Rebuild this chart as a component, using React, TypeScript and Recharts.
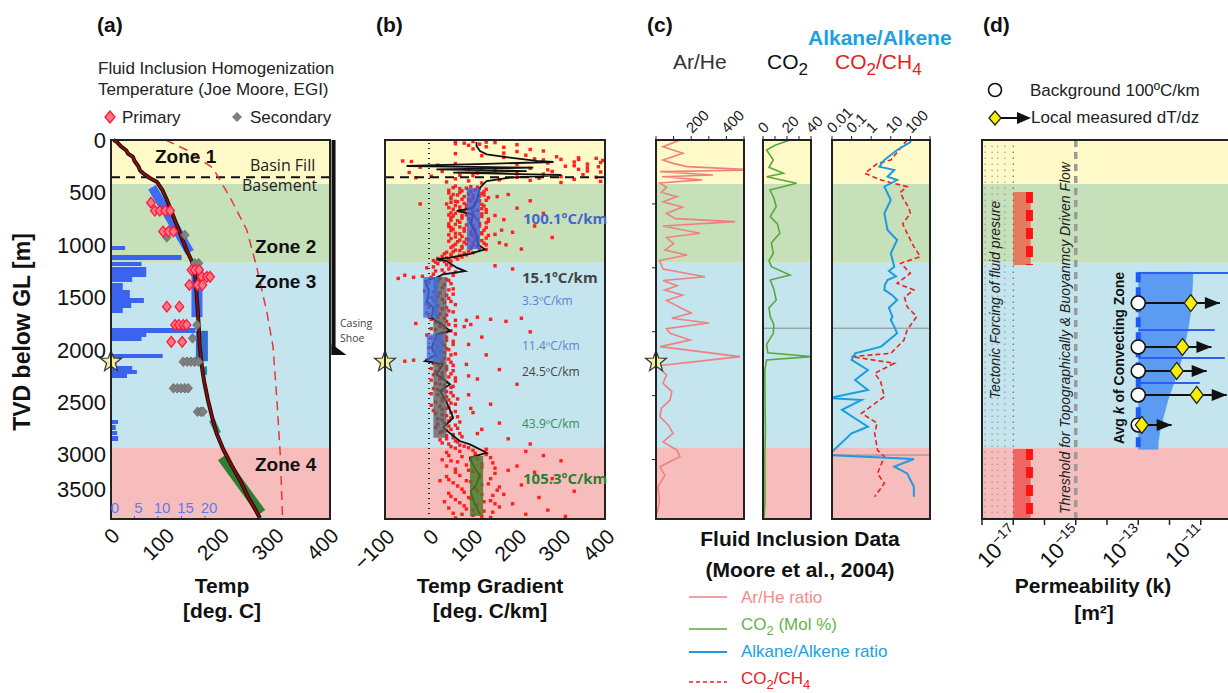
import React from 'react';
import { ComposedChart, Scatter, XAxis, YAxis, ReferenceArea, ReferenceLine, ReferenceDot } from 'recharts';

const SANS = '"Liberation Sans", Arial, Helvetica, sans-serif';
const OPEN = '"Open Sans", "Liberation Sans", sans-serif';

const DEPTH_MAX = 3615;

// zones (depth below ground level, m)
const zoneTop = [0, 420, 1170, 2930];
const zoneBase = [420, 1170, 2930, 3615];
const zoneFill = ['#fffac8', '#c6e1b9', '#c4e4ee', '#f7bdbd'];
const basementDepth = 355;
const starDepth = 2115;

// ---------- (a) temperature ----------
const tempTicks = [0, 100, 200, 300, 400];
const depthTicks = [0, 500, 1000, 1500, 2000, 2500, 3000, 3500];
// [depth, temp]
const tempProfile = [
  [0, 5], [20, 11], [60, 18], [100, 28], [130, 31], [160, 40], [200, 43], [250, 50], [290, 53], [315, 58],
  [360, 70], [400, 84], [480, 94], [570, 102], [700, 112], [890, 126], [1050, 138], [1160, 148], [1300, 154],
  [1520, 157], [1750, 160], [1970, 162], [2160, 166], [2300, 170], [2480, 177], [2650, 185], [2800, 193],
  [2950, 205], [3100, 220], [3250, 236], [3400, 250], [3605, 272],
];
const boilingCurve = [
  [0, 100], [95, 138], [267, 186], [543, 217], [858, 248], [1210, 266], [1650, 285], [1973, 296],
  [2480, 303], [2985, 309], [3555, 313], [3615, 313],
];
const primaryFI = [
  [598, 73], [675, 80], [675, 89], [675, 99], [675, 108], [873, 95], [873, 105], [873, 114],
  [1240, 147], [1240, 153], [1240, 161], [1305, 166], [1305, 175], [1305, 181], [1383, 143], [1383, 158],
  [1383, 167], [1590, 102], [1590, 125], [1764, 117], [1764, 124], [1764, 132], [1764, 138], [1925, 110], [1925, 130],
];
const secondaryFI = [
  [906, 135], [928, 102], [1176, 153], [1176, 160], [1765, 157], [1892, 149], [2115, 132], [2115, 139],
  [2115, 146], [2115, 153], [2115, 160], [2368, 114], [2368, 121], [2368, 128], [2368, 135], [2368, 141],
  [2592, 158], [2592, 164], [2592, 168],
];
// fracture count histogram [top, base, count]
const histBins = [
  [1011, 1049, 3], [1097, 1145, 15], [1164, 1202, 6.5], [1211, 1307, 7.5], [1307, 1354, 4.5], [1364, 1431, 2.5],
  [1431, 1507, 4], [1507, 1555, 7], [1555, 1602, 4.3], [1602, 1650, 2.5], [1793, 1841, 18], [1841, 1879, 7.5],
  [1879, 1917, 6.5], [2041, 2079, 11], [2156, 2194, 4.5], [2194, 2232, 5.5], [2232, 2270, 3.4],
  [2671, 2709, 1.5], [2718, 2766, 1], [2776, 2814, 1.3], [2823, 2871, 1.5],
];
const histTicks = [0, 5, 10, 15, 20];
const HIST_MAX = 46.6;
// linear gradient fits drawn on the profile
const fitBands = [
  [[450, 75], [1070, 144]],
  [[1210, 157], [1690, 157]],
  [[1820, 166], [2110, 166]],
  [[2160, 170], [2240, 170]],
  [[2670, 184], [2800, 196]],
  [[3030, 202], [3555, 275]],
];
const fitBandColor = ['#3f6df2', '#3f6df2', '#2f6ccc', '#2a86a0', '#3d8f6d', '#2f7d32'];
const fitBandWidth = [9, 11, 12, 6, 6, 9];
const casingX = 406.5;
const casingShoeDepth = 2050;

// ---------- (b) temperature gradient ----------
const gradTicks = [-100, 0, 100, 200, 300, 400];
const gradLine = [
  [20, 108], [57, 108], [105, 116], [137, 131], [168, 184], [200, 245], [210, 283], [225, 150], [248, -51],
  [264, 237], [280, 17], [296, 222], [312, 55], [334, 301], [359, 184], [391, 131], [455, 116], [582, 108],
  [650, 100], [677, 63], [709, 100], [800, 95], [900, 108], [1000, 112], [1043, 127], [1087, 93], [1122, 48],
  [1138, 17], [1154, 40], [1218, 63], [1250, 82], [1281, 32], [1313, 17], [1345, -9], [1440, 0], [1536, -5],
  [1600, 10], [1695, 6], [1760, 30], [1822, 48], [1853, 17], [1920, 12], [1981, 6], [2050, 15], [2108, -9],
  [2139, 32], [2235, 17], [2330, 48], [2394, 25], [2500, 40], [2649, 55], [2744, 32], [2871, 70], [2903, 93],
  [2983, 131], [3030, 93], [3100, 100], [3200, 115], [3284, 108], [3350, 95], [3443, 101], [3570, 116],
];
const dotsZone1 = [
  [10, 60], [15, 100], [20, 130], [30, 80], [40, 115], [25, 150], [50, 90], [70, 170], [90, 230], [110, 200],
  [130, 60], [150, 120], [160, 290], [170, 340], [175, 380], [185, 300], [190, 260], [195, 395], [200, -60],
  [205, -40], [210, 330], [220, 270], [230, 360], [240, 20], [250, 310], [255, 385], [260, -20], [270, 230],
  [280, 340], [290, 150], [300, 280], [305, 390], [310, -45], [320, 200], [330, 350], [340, 100], [350, 300],
  [355, 380], [360, -30], [365, 250], [370, 60], [380, 160], [390, 90], [400, 40], [410, 120], [345, 5],
  [300, 30], [280, 90], [35, 60], [185, 340], [215, 390], [265, 360], [325, 260], [355, 200],
  [45, 200], [65, 130], [85, 100], [105, 260], [125, 170], [145, 220], [165, 170], [180, 240], [225, 60],
  [235, 200], [245, 330], [275, 120], [285, 270], [295, 360], [315, 110], [335, 70], [375, 330], [385, 230],
  [395, 390], [405, 300],
];
const dotsZone2 = [
  [440, 60], [450, 110], [460, 85], [470, 130], [480, 45], [490, 95], [500, 70], [510, 120], [520, 55], [530, 100],
  [540, 80], [550, 135], [560, 50], [570, 90], [580, 115], [590, 65], [600, 105], [610, 40], [620, 85], [630, 125],
  [640, 70], [650, 95], [660, 55], [670, 110], [680, 80], [690, 130], [700, 60], [710, 100], [720, 75], [730, 120],
  [740, 50], [750, 90], [760, 110], [770, 65], [780, 95], [790, 130], [800, 45], [810, 85], [820, 115], [830, 70],
  [840, 100], [850, 55], [860, 125], [870, 80], [880, 105], [890, 60], [900, 95], [910, 135], [920, 75], [930, 110],
  [940, 50], [950, 90], [960, 120], [970, 65], [980, 100], [990, 85], [1000, 130], [1010, 55], [1020, 95],
  [1030, 75], [1040, 115], [1050, 60], [1060, 90], [1070, 40], [1080, 80], [1090, 50], [1100, 70], [1110, 30],
  [1120, 60], [1130, 20], [1140, 45], [1150, 10], [1160, 35], [465, 70], [525, 125], [585, 60], [655, 120],
  [715, 45], [775, 135], [835, 50], [895, 120], [955, 70], [1015, 110],
  [445, 95], [455, 55], [475, 105], [485, 75], [495, 125], [505, 45], [515, 90], [525, 65], [535, 115], [545, 50],
  [555, 100], [565, 75], [575, 130], [585, 95], [595, 50], [605, 80], [615, 120], [625, 60], [635, 100], [645, 45],
  [655, 85], [665, 130], [675, 70], [685, 100], [695, 50], [705, 120], [715, 85], [725, 55], [735, 105], [745, 75],
  [755, 135], [765, 50], [775, 95], [785, 70], [795, 115], [805, 60], [815, 100], [825, 45], [835, 130], [845, 80],
  [855, 105], [865, 50], [875, 95], [885, 120], [895, 70], [905, 45], [915, 100], [925, 60], [935, 130], [945, 85],
  [955, 105], [965, 45], [975, 80], [985, 125], [995, 60], [1005, 100], [1015, 75], [1025, 50], [1035, 95],
  [1045, 130], [1055, 70], [1065, 55], [1075, 100], [1085, 35], [1095, 85], [1105, 50], [1115, 75], [1125, 40],
  [1135, 65], [1145, 25], [1155, 50], [1165, 15],
  [520, 180], [580, 230], [650, 200], [700, 260], [760, 170], [820, 240], [880, 190], [930, 280], [980, 160],
  [1040, 210], [610, -20], [900, 150], [540, 155], [720, 150], [860, 165], [1000, 175],
];
const dotsZone3 = [
  [1180, 20], [1200, 50], [1220, -5], [1240, 30], [1260, 60], [1280, 10], [1300, -15], [1320, 25], [1340, 45],
  [1360, 0], [1380, 35], [1400, 15], [1420, 55], [1440, -10], [1460, 25], [1480, 40], [1500, 5], [1520, 30],
  [1540, 50], [1560, -5], [1580, 20], [1600, 40], [1620, 10], [1640, 55], [1660, 25], [1680, 0], [1700, 35],
  [1720, 60], [1740, 15], [1760, 45], [1780, 25], [1800, 5], [1820, 50], [1840, 30], [1860, -5], [1880, 40],
  [1900, 20], [1920, 55], [1940, 10], [1960, 35], [1980, 0], [2000, 45], [2020, 25], [2040, 60], [2060, 15],
  [2080, 35], [2100, -5], [2120, 50], [2140, 20], [2160, 40], [2180, 5], [2200, 55], [2220, 30], [2240, 10],
  [2260, 45], [2280, 25], [2300, 60], [2320, 15], [2340, 35], [2360, 50], [2380, 20], [2400, 40], [2420, 5],
  [2440, 55], [2460, 30], [2480, 45], [2500, 15], [2520, 60], [2540, 25], [2560, 40], [2580, 10], [2600, 50],
  [2620, 30], [2640, 65], [2660, 20], [2680, 45], [2700, 35], [2720, 60], [2740, 15], [2760, 50], [2780, 30],
  [2800, 70], [2820, 40], [2840, 55], [2860, 25], [2880, 65], [2900, 45], [2920, 80],
  [1190, 40], [1210, 10], [1230, 45], [1250, 15], [1270, 35], [1290, 55], [1310, 5], [1330, 40], [1350, 20],
  [1370, 50], [1390, -5], [1410, 30], [1430, 45], [1450, 10], [1470, 55], [1490, 20], [1510, 45], [1530, 10],
  [1550, 35], [1570, 60], [1590, 0], [1610, 30], [1630, 45], [1650, -5], [1670, 40], [1690, 20], [1710, 5],
  [1730, 40], [1750, 25], [1770, 60], [1790, 35], [1810, 15], [1830, 40], [1850, 60], [1870, 20], [1890, 5],
  [1910, 40], [1930, 30], [1950, 55], [1970, 20], [1990, 40], [2010, 10], [2030, 35], [2050, 50], [2070, 5],
  [2090, 45], [2110, 30], [2130, 10], [2150, 55], [2170, 25], [2190, 40], [2210, 15], [2230, 50], [2250, 30],
  [2270, 60], [2290, 5], [2310, 40], [2330, 25], [2350, 55], [2370, 10], [2390, 30], [2410, 50], [2430, 20],
  [2450, 40], [2470, 65], [2490, 30], [2510, 50], [2530, 5], [2550, 45], [2570, 30], [2590, 60], [2610, 15],
  [2630, 40], [2650, 50], [2670, 30], [2690, 70], [2710, 20], [2730, 45], [2750, 65], [2770, 40], [2790, 25],
  [2810, 55], [2830, 75], [2850, 40], [2870, 60], [2890, 30], [2910, 70], [2925, 50],
  [1200, 150], [1230, 190], [1290, -55], [1310, -35], [1320, -70], [1690, 110], [1710, 140], [1730, 175],
  [1700, 210], [1760, 95], [1830, 230], [1880, 120], [1950, 90], [2050, 130], [2110, -55], [2100, -35],
  [2190, 160], [2280, 110], [2330, 200], [2430, 90], [2520, 140], [2600, 100], [2700, 160], [2760, 120],
  [2850, 180], [2900, 230], [1750, -30], [1720, 85], [1780, 80], [2140, 85], [2250, 90], [2560, 95], [2800, 110],
];
const dotsZone4 = [
  [2940, 60], [2960, 100], [2980, 40], [3000, 130], [3020, 75], [3040, 110], [3060, 50], [3080, 145], [3100, 85],
  [3120, 120], [3140, 60], [3160, 100], [3180, 150], [3200, 70], [3220, 115], [3240, 45], [3260, 95], [3280, 135],
  [3300, 65], [3320, 105], [3340, 155], [3360, 80], [3380, 120], [3400, 50], [3420, 95], [3440, 140], [3460, 70],
  [3480, 110], [3500, 160], [3520, 85], [3540, 125], [3560, 55], [3580, 100], [3600, 140], [3050, 30], [3250, 25],
  [3450, 35],
  [2935, 90], [2950, 130], [2970, 70], [2990, 105], [3010, 45], [3030, 140], [3050, 95], [3070, 65], [3090, 120],
  [3110, 40], [3130, 150], [3150, 90], [3170, 60], [3190, 115], [3210, 40], [3230, 140], [3250, 85], [3270, 55],
  [3290, 120], [3310, 160], [3330, 75], [3350, 110], [3370, 45], [3390, 145], [3410, 90], [3430, 60], [3450, 125],
  [3470, 150], [3490, 80], [3510, 45], [3530, 100], [3550, 145], [3570, 75], [3590, 120], [3605, 60],
  [2970, 220], [3010, 260], [3060, 300], [3110, 200], [3170, 240], [3230, 280], [3290, 210], [3350, 330],
  [3410, 250], [3470, 190], [3530, 270], [3570, 220], [3590, 310], [3150, 180], [3380, 170],
];
// gradient fit boxes [x1, x2, top, base]
const gradBoxes = [
  [86, 116, 460, 1040], [10, 40, 1307, 2839], [-13, 21, 1307, 1695], [-5, 32, 1853, 2108], [93, 123, 3014, 3586],
];
const gradBoxFill = ['#3d5fd8', '#5e5e5e', '#3d6be0', '#3d6be0', '#4f7a2b'];
const gradBoxOpacity = [0.8, 0.75, 0.8, 0.75, 0.85];

// ---------- (c) fluid inclusion data ----------
const ftTicks = [609.6, 1219.2, 1828.8, 2438.4, 3048];
const arHeTicks = [0, 100, 200, 300, 400, 500];
const co2Ticks = [0, 10, 20, 30, 40];
const ratioTicks = [0.01, 0.1, 1, 10, 100, 1000];
const arHe = [
  [0, 136], [64, 40], [127, 153], [191, 40], [223, 97], [254, 176], [286, 574], [302, 23], [334, 324], [350, 34],
  [380, 260], [410, 20], [450, 60], [500, 30], [540, 120], [590, 40], [640, 150], [700, 60], [750, 110], [779, 449],
  [820, 40], [889, 250], [930, 60], [990, 100], [1050, 50], [1097, 176], [1150, 20], [1230, 40], [1304, 278],
  [1340, 40], [1390, 120], [1430, 50], [1480, 150], [1530, 60], [1600, 140], [1650, 200], [1700, 90], [1745, 300],
  [1800, 60], [1844, 80], [1908, 193], [1971, 23], [2066, 477], [2156, 6], [2240, 60], [2320, 40], [2400, 90],
  [2480, 80], [2560, 30], [2640, 23], [2720, 70], [2798, 97], [2880, 40], [2957, 119], [3021, 136], [3116, 23],
  [3200, 50], [3307, 11], [3450, 20], [3558, 6],
];
const co2 = [
  [0, 22.5], [50, 10], [95, 3], [191, 8.6], [260, 5], [318, 17], [350, 3], [413, 28], [477, 5.8], [550, 9],
  [636, 11], [731, 6], [800, 12], [890, 14], [980, 7], [1081, 8.6], [1150, 5], [1208, 7], [1288, 22.5], [1335, 6],
  [1420, 9], [1526, 11], [1600, 5], [1685, 6], [1760, 9], [1844, 8.6], [1950, 3], [2030, 4], [2066, 40.5],
  [2098, 3], [2200, 1.5], [2480, 1.7], [2800, 2], [3000, 1.5], [3434, 1.7], [3600, 1],
];
const alkRatio = [
  [0, 100], [20, 100], [95, 21], [191, 4.7], [254, 2.6], [286, 15], [350, 6.8], [382, 21], [445, 4.7], [572, 10],
  [700, 4.7], [858, 6.8], [954, 21], [1081, 10], [1208, 15], [1250, 8], [1300, 18], [1335, 6.8], [1380, 5],
  [1430, 4.7], [1480, 12], [1526, 21], [1600, 8], [1685, 12], [1717, 10], [1780, 15], [1844, 21], [1971, 3.2],
  [2035, 0.15], [2098, 0.1], [2194, 0.68], [2289, 0.15], [2384, 0.68], [2462, 0.0068], [2480, 0.32],
  [2575, 0.032], [2735, 0.68], [2798, 0.1], [3005, 0.0068], [3043, 150], [3116, 15], [3180, 68], [3307, 150],
  [3402, 150],
];
const co2ch4 = [
  [0, 68], [191, 10], [223, 2.1], [318, 0.47], [382, 3.2], [445, 68], [500, 30], [572, 47], [640, 80], [700, 100],
  [800, 40], [890, 68], [1017, 150], [1113, 320], [1176, 32], [1271, 100], [1367, 21], [1430, 150], [1500, 50],
  [1590, 68], [1685, 210], [1812, 68], [1908, 47], [2035, 10], [2066, 0.1], [2130, 15], [2226, 1.5], [2300, 3],
  [2448, 4.7], [2607, 0.32], [2700, 2], [2798, 1.5], [2957, 2.1], [3021, 4.7], [3180, 2.1], [3275, 4.7], [3402, 1.5],
];
const sampleGapDepth = [1795, 3005];

// ---------- (d) permeability ----------
const permTicks = [1e-18, 1e-17, 1e-16, 1e-15, 1e-14, 1e-13, 1e-12, 1e-11];
const gridK = [1.26e-18, 2.1e-18, 3.2e-18, 5.4e-18];
const thresholdK = 1e-15;
const tectonicK = [1e-17, 3.6e-17];
const tectonicDashK = 3.3e-17;
const tectonicZones = [[496, 1192], [2947, 3615]];
const tectonicFill = ['#e47a5e', '#f36565'];
const avgK = 1e-13;
// convecting zone envelope [depth, k]
const convEnvelope = [
  [1262, 1e-13], [1262, 5.6e-12], [1370, 5.5e-12], [1470, 5.2e-12], [1570, 5.0e-12], [1670, 4.6e-12],
  [1770, 4.1e-12], [1870, 3.5e-12], [1970, 3.0e-12], [2070, 2.5e-12], [2170, 2.1e-12], [2270, 1.6e-12],
  [2370, 1.2e-12], [2470, 9.1e-13], [2570, 7.4e-13], [2670, 6.0e-13], [2770, 5.0e-13], [2870, 4.4e-13],
  [2950, 4.3e-13], [2950, 1e-13],
];
const convSpikes = [[1268, 1.2e-10], [1812, 2.8e-11], [2079, 5.9e-11], [2318, 9.3e-12]];
const rowDepth = [1555, 1974, 2203, 2432, 2718];
const localK = [4.8e-12, 2.6e-12, 1.7e-12, 7.4e-12, 1.3e-13];
const tipK = [4.1e-11, 2.2e-11, 1.55e-11, 6.8e-11, 1.17e-12];

// ---------- helpers ----------
const toXY = (rows: number[][]) => rows.map(([y, x]) => ({ x, y }));
const Empty = () => <g />;

const zoneAreas = (xAxisId: any = 0) =>
  zoneTop.map((t, i) => (
    <ReferenceArea key={`zone${i}`} xAxisId={xAxisId} y1={t} y2={zoneBase[i]} fill={zoneFill[i]}
      fillOpacity={1} stroke="none" ifOverflow="visible" />
  ));

const frame = (xAxisId: any = 0) => (
  <ReferenceArea key="frame" xAxisId={xAxisId} y1={0} y2={DEPTH_MAX} fill="none" stroke="#222"
    strokeWidth={2} ifOverflow="visible" zIndex={1500} />
);

const curve = (key: string, rows: number[][], stroke: string, width: number, dash?: string, xAxisId: any = 0) => (
  <Scatter key={key} data={toXY(rows)} xAxisId={xAxisId} shape={Empty} isAnimationActive={false}
    line={{ stroke, strokeWidth: width, strokeDasharray: dash, fill: 'none' }} legendType="none" />
);

const StarShape = (p: any) => {
  const pts: string[] = [];
  for (let i = 0; i < 10; i++) {
    const r = i % 2 ? 4.6 : 11;
    const a = -Math.PI / 2 + (i * Math.PI) / 5;
    pts.push(`${p.cx + r * Math.cos(a)},${p.cy + r * Math.sin(a)}`);
  }
  return <polygon points={pts.join(' ')} fill="#f3ee9c" stroke="#333" strokeWidth={1.2} />;
};

const diamond = (fill: string, stroke: string, w: number, h: number, sw = 1) => (p: any) => (
  <polygon points={`${p.cx},${p.cy - h} ${p.cx + w},${p.cy} ${p.cx},${p.cy + h} ${p.cx - w},${p.cy}`}
    fill={fill} stroke={stroke} strokeWidth={sw} />
);
const dotShape = (p: any) => <rect x={p.cx - 1.7} y={p.cy - 1.7} width={3.4} height={3.4} fill="#ff1f1f" />;
const circleShape = (p: any) => <circle cx={p.cx} cy={p.cy} r={7} fill="#fff" stroke="#111" strokeWidth={1.6} />;
const arrowShape = (p: any) => (
  <polygon points={`${p.cx},${p.cy} ${p.cx - 15},${p.cy - 6} ${p.cx - 15},${p.cy + 6}`} fill="#111" />
);

const rotBottom = (fmt: (v: number) => string, dx: number, dy: number) => (p: any) => {
  const ax = p.x + dx;
  const ay = p.y + dy;
  return (
    <text x={ax} y={ay} transform={`rotate(-45 ${ax} ${ay})`} textAnchor="end" fontSize={21}
      fontFamily={SANS} fill="#111">{fmt(p.payload.value)}</text>
  );
};

const rotTop = (fmt: (v: number) => string) => (p: any) => {
  const lab = fmt(p.payload.value);
  if (!lab) return <g />;
  const ax = p.x + 1;
  const ay = p.y - 2;
  return (
    <text x={ax} y={ay} transform={`rotate(-45 ${ax} ${ay})`} textAnchor="start" fontSize={15}
      fontFamily={SANS} fill="#222">{lab}</text>
  );
};

const DepthTick = (p: any) => {
  const v = p.payload.value;
  const lift = v === 3500 ? -18 : 0;
  return (
    <text x={p.x - 3} y={p.y + lift} dy="0.36em" textAnchor="end" fontSize={22} fontFamily={SANS} fill="#111">{v}</text>
  );
};

const HistTick = (p: any) => (
  <text x={p.x + 4} y={p.y} textAnchor="middle" fontSize={15} fontFamily={SANS} fill="#5b7cf0">{p.payload.value}</text>
);

const PermTick = (p: any) => {
  const e = Math.round(Math.log10(p.payload.value));
  if (e % 2 === 0 || e > -11 || e < -17) return <g />;
  const ax = p.x + 7;
  const ay = p.y + 10;
  return (
    <text x={ax} y={ay} transform={`rotate(-45 ${ax} ${ay})`} textAnchor="end" fontSize={22} fontFamily={SANS} fill="#111">
      10<tspan dy={-9} fontSize={14}>{`\u2212${-e}`}</tspan>
    </text>
  );
};

const minus = (v: number) => (v < 0 ? `\u2212${-v}` : `${v}`);

// ---------- panels ----------
function PanelA() {
  return (
    <ComposedChart width={400} height={600} margin={{ top: 140, right: 70, bottom: 21, left: 0 }}>
      <XAxis type="number" dataKey="x" domain={[0, 400]} ticks={tempTicks} interval={0} tick={rotBottom(minus, 10, 18)}
        tickSize={0} tickMargin={0} axisLine={false} height={60} />
      <XAxis xAxisId="h" type="number" dataKey="x" domain={[0, HIST_MAX]} allowDataOverflow mirror interval={0}
        ticks={histTicks} tick={HistTick} tickSize={3} tickMargin={3} tickLine={{ stroke: '#3a63f0' }} axisLine={false} />
      <YAxis type="number" dataKey="y" domain={[0, DEPTH_MAX]} reversed ticks={depthTicks} interval={0} tick={DepthTick}
        tickSize={0} tickMargin={2} axisLine={false} width={111} />
      {zoneAreas()}
      {histBins.map(([t, b, c], i) => (
        <ReferenceArea key={`h${i}`} xAxisId="h" x1={0} x2={c} y1={t} y2={b} fill="#3a63f0" fillOpacity={1} stroke="none" />
      ))}
      <ReferenceLine y={basementDepth} stroke="#111" strokeWidth={2} strokeDasharray="9 6" />
      {curve('boil', boilingCurve, '#ee3535', 1.5, '9 6')}
      {fitBands.map((rows, i) => curve(`band${i}`, rows, fitBandColor[i], fitBandWidth[i]))}
      {curve('tempShadow', tempProfile, '#111', 4)}
      {curve('temp', tempProfile, '#8a0a0a', 2.2)}
      <Scatter data={toXY(secondaryFI)} shape={diamond('#808080', '#707070', 4.2, 4.8)} isAnimationActive={false} />
      <Scatter data={toXY(primaryFI)} shape={diamond('#ff7585', '#ff1a35', 4.3, 5.3, 1.3)} isAnimationActive={false} />
      <Scatter data={[{ x: 0, y: starDepth }]} shape={StarShape} isAnimationActive={false} />
      <ReferenceLine segment={[{ x: casingX, y: 0 }, { x: casingX, y: casingShoeDepth }]} stroke="#111"
        strokeWidth={4} ifOverflow="visible" />
      <ReferenceDot x={casingX} y={casingShoeDepth} ifOverflow="visible"
        shape={(p: any) => <polygon points={`${p.cx - 2},${p.cy - 11} ${p.cx + 13},${p.cy} ${p.cx - 2},${p.cy}`} fill="#111" />} />
      {frame()}
    </ComposedChart>
  );
}

function PanelB() {
  return (
    <ComposedChart width={270} height={600} margin={{ top: 140, right: 15, bottom: 21, left: 35 }}>
      <XAxis type="number" dataKey="x" domain={[-100, 400]} ticks={gradTicks} interval={0} tick={rotBottom(minus, 11, 19)}
        tickSize={0} tickMargin={0} axisLine={false} height={60} />
      <YAxis type="number" dataKey="y" domain={[0, DEPTH_MAX]} reversed hide />
      {zoneAreas()}
      <ReferenceLine x={0} stroke="#222" strokeWidth={2} strokeDasharray="1 4" />
      {[dotsZone1, dotsZone2, dotsZone3, dotsZone4].map((rows, i) => (
        <Scatter key={`dots${i}`} data={toXY(rows)} shape={dotShape} isAnimationActive={false} />
      ))}
      {gradBoxes.map(([x1, x2, t, b], i) => (
        <ReferenceArea key={`box${i}`} x1={x1} x2={x2} y1={t} y2={b} fill={gradBoxFill[i]}
          fillOpacity={gradBoxOpacity[i]} stroke="none" zIndex={650} />
      ))}
      {curve('gradLine', gradLine, '#111', 1.8)}
      <ReferenceLine y={basementDepth} stroke="#111" strokeWidth={2} strokeDasharray="9 6" zIndex={700} />
      <Scatter data={[{ x: -100, y: starDepth }]} shape={StarShape} isAnimationActive={false} />
      {frame()}
    </ComposedChart>
  );
}

function PanelArHe() {
  return (
    <ComposedChart width={120} height={540} margin={{ top: 100, right: 16, bottom: 21, left: 11 }}>
      <XAxis type="number" dataKey="x" orientation="top" domain={[0, 500]} allowDataOverflow ticks={arHeTicks} interval={0}
        tick={rotTop((v) => (v === 200 || v === 400 ? `${v}` : ''))} tickSize={4} tickMargin={0}
        tickLine={{ stroke: '#222' }} axisLine={false} height={40} />
      <XAxis xAxisId="s" type="number" dataKey="x" domain={[0, 1]} hide />
      <YAxis type="number" dataKey="y" domain={[0, DEPTH_MAX]} reversed ticks={ftTicks} interval={0} tick={Empty}
        tickSize={4} tickMargin={0} tickLine={{ stroke: '#222' }} axisLine={false} width={5} />
      {zoneAreas()}
      {curve('arhe', arHe, '#f08080', 1.6)}
      <Scatter xAxisId="s" data={[{ x: 0, y: starDepth }]} shape={StarShape} isAnimationActive={false} />
      {frame()}
    </ComposedChart>
  );
}

function PanelCO2() {
  return (
    <ComposedChart width={90} height={540} margin={{ top: 100, right: 29, bottom: 21, left: 13 }}>
      <XAxis type="number" dataKey="x" orientation="top" domain={[0, 40]} allowDataOverflow ticks={co2Ticks} interval={0}
        tick={rotTop((v) => (v % 20 === 0 ? `${v}` : ''))} tickSize={4} tickMargin={0}
        tickLine={{ stroke: '#222' }} axisLine={false} height={40} />
      <YAxis type="number" dataKey="y" domain={[0, DEPTH_MAX]} reversed hide />
      {zoneAreas()}
      <ReferenceLine y={sampleGapDepth[0]} stroke="#8a8a8a" strokeWidth={1} />
      {curve('co2', co2, '#5aa83a', 1.6)}
      {frame()}
    </ComposedChart>
  );
}

function PanelRatio() {
  return (
    <ComposedChart width={130} height={540} margin={{ top: 100, right: 15, bottom: 21, left: 17 }}>
      <XAxis type="number" dataKey="x" orientation="top" scale="log" domain={[0.01, 1000]} allowDataOverflow interval={0}
        ticks={ratioTicks} tick={rotTop((v) => (v < 1000 ? `${v}` : ''))} tickSize={4} tickMargin={0}
        tickLine={{ stroke: '#222' }} axisLine={false} height={40} />
      <YAxis type="number" dataKey="y" domain={[0, DEPTH_MAX]} reversed hide />
      {zoneAreas()}
      {sampleGapDepth.map((d, i) => (
        <ReferenceLine key={`gap${i}`} y={d} stroke="#8a8a8a" strokeWidth={1} />
      ))}
      {curve('co2ch4', co2ch4, '#ee2020', 1.6, '5 3')}
      {curve('alk', alkRatio, '#1a9de0', 2)}
      {frame()}
    </ComposedChart>
  );
}

function PanelD() {
  return (
    <ComposedChart width={300} height={600} margin={{ top: 140, right: 28, bottom: 21, left: 22 }}>
      <XAxis type="number" dataKey="x" scale="log" domain={[1e-18, 1e-10]} allowDataOverflow ticks={permTicks} interval={0}
        tick={PermTick} tickSize={6} tickMargin={0} tickLine={{ stroke: '#222', strokeWidth: 1.5 }} axisLine={false} height={60} />
      <YAxis type="number" dataKey="y" domain={[0, DEPTH_MAX]} reversed hide />
      {zoneAreas()}
      {gridK.map((k, i) => (
        <ReferenceLine key={`g${i}`} x={k} stroke="#8c8c8c" strokeWidth={1} strokeDasharray="1.5 4.5" />
      ))}
      <ReferenceLine x={tectonicK[0]} stroke="#555" strokeWidth={1} strokeDasharray="1.5 4.5" />
      {tectonicZones.map(([t, b], i) => (
        <ReferenceArea key={`tz${i}`} x1={tectonicK[0]} x2={tectonicK[1]} y1={t} y2={b} fill={tectonicFill[i]}
          fillOpacity={1} stroke="none" />
      ))}
      {tectonicZones.map(([t, b], i) => (
        <ReferenceLine key={`td${i}`} segment={[{ x: tectonicDashK, y: t }, { x: tectonicDashK, y: b }]}
          stroke="#ff1414" strokeWidth={7} strokeDasharray="11 7" />
      ))}
      <ReferenceLine x={thresholdK} stroke="#9a9a9a" strokeWidth={3.5} strokeDasharray="7 5" />
      <Scatter data={toXY(convEnvelope)} shape={Empty} isAnimationActive={false}
        line={{ stroke: '#4f92ee', strokeWidth: 0.5, fill: '#5b9cf2' }} />
      {convSpikes.map(([d, k], i) =>
        curve(`sp${i}`, [[d, avgK], [d, k]], '#2d5df2', 2))}
      {curve('avgk', [[1262, avgK], [2950, avgK]], '#1a5cf5', 5, '10 5')}
      {rowDepth.map((d, i) => curve(`row${i}`, [[d, avgK], [d, tipK[i]]], '#111', 2))}
      <Scatter data={rowDepth.map((d, i) => ({ x: tipK[i], y: d }))} shape={arrowShape} isAnimationActive={false} />
      <Scatter data={rowDepth.map((d) => ({ x: avgK, y: d }))} shape={circleShape} isAnimationActive={false} />
      <Scatter data={rowDepth.map((d, i) => ({ x: localK[i], y: d }))} shape={diamond('#f8ee00', '#222', 6.5, 8.5, 1.3)}
        isAnimationActive={false} />
      {frame()}
    </ComposedChart>
  );
}

function Annotations() {
  const base = { fontFamily: SANS, fill: '#111' } as any;
  return (
    <svg width={1228} height={693} style={{ position: 'absolute', left: 0, top: 0, pointerEvents: 'none' }}>
      {/* (a) */}
      <text x={97} y={32} fontSize={21} fontWeight="bold" {...base}>(a)</text>
      <text x={98} y={74} fontSize={17} {...base} fill="#222">Fluid Inclusion Homogenization</text>
      <text x={98} y={95} fontSize={17} {...base} fill="#222">Temperature (Joe Moore, EGI)</text>
      <polygon points="110,111 115,117 110,123 105,117" fill="#ff7585" stroke="#ff1a35" strokeWidth={1.3} />
      <text x={122} y={123} fontSize={17} {...base} fill="#222">Primary</text>
      <polygon points="237,112 242,117 237,122 232,117" fill="#808080" />
      <text x={250} y={123} fontSize={17} {...base} fill="#222">Secondary</text>
      <text x={30} y={332} fontSize={23} fontWeight="bold" textAnchor="middle" transform="rotate(-90 30 332)" {...base}>TVD below GL [m]</text>
      <text x={155} y={163} fontSize={19} fontWeight="bold" {...base}>Zone 1</text>
      <text x={250} y={171} fontSize={16} fontFamily={OPEN} fill="#222">Basin Fill</text>
      <text x={242} y={191} fontSize={16} fontFamily={OPEN} fill="#222">Basement</text>
      <text x={255} y={253} fontSize={19} fontWeight="bold" {...base}>Zone 2</text>
      <text x={255} y={288} fontSize={19} fontWeight="bold" {...base}>Zone 3</text>
      <text x={255} y={471} fontSize={19} fontWeight="bold" {...base}>Zone 4</text>
      <text x={340} y={327} fontSize={10.5} fontFamily={OPEN} fill="#444">Casing</text>
      <text x={340} y={342} fontSize={10.5} fontFamily={OPEN} fill="#444">Shoe</text>
      <text x={222} y={593} fontSize={21} fontWeight="bold" textAnchor="middle" {...base}>Temp</text>
      <text x={222} y={618} fontSize={21} fontWeight="bold" textAnchor="middle" {...base}>[deg. C]</text>

      {/* (b) */}
      <text x={376} y={32} fontSize={21} fontWeight="bold" {...base}>(b)</text>
      <text x={523} y={224} fontSize={15} fontWeight="bold" fontFamily={OPEN} fill="#4466cc">100.1ºC/km</text>
      <text x={522} y={283} fontSize={15} fontWeight="bold" fontFamily={OPEN} fill="#444">15.1ºC/km</text>
      <text x={522} y={305} fontSize={12} fontFamily={OPEN} fill="#5a82d8">3.3ºC/km</text>
      <text x={522} y={350} fontSize={12} fontFamily={OPEN} fill="#5a82d8">11.4ºC/km</text>
      <text x={522} y={376} fontSize={12} fontFamily={OPEN} fill="#444">24.5ºC/km</text>
      <text x={522} y={428} fontSize={12} fontFamily={OPEN} fill="#3a8a5a">43.9ºC/km</text>
      <text x={523} y={484} fontSize={15} fontWeight="bold" fontFamily={OPEN} fill="#2e7d32">105.3ºC/km</text>
      <text x={490} y={593} fontSize={21} fontWeight="bold" textAnchor="middle" {...base}>Temp Gradient</text>
      <text x={490} y={618} fontSize={21} fontWeight="bold" textAnchor="middle" {...base}>[deg. C/km]</text>

      {/* (c) */}
      <text x={647} y={32} fontSize={21} fontWeight="bold" {...base}>(c)</text>
      <text x={808} y={45} fontSize={21} fontWeight="bold" fontFamily={SANS} fill="#1ba1e2">Alkane/Alkene</text>
      <text x={673} y={69} fontSize={21} fontFamily={SANS} fill="#333">Ar/He</text>
      <text x={767} y={69} fontSize={21} fontFamily={SANS} fill="#111">CO<tspan dy={6} fontSize={17}>2</tspan></text>
      <text x={835} y={69} fontSize={21} fontFamily={SANS} fill="#e82020">CO<tspan dy={6} fontSize={17}>2</tspan><tspan dy={-6}>/CH</tspan><tspan dy={6} fontSize={17}>4</tspan></text>
      <text x={800} y={546} fontSize={21} fontWeight="bold" textAnchor="middle" {...base}>Fluid Inclusion Data</text>
      <text x={800} y={577} fontSize={21} fontWeight="bold" textAnchor="middle" {...base}>(Moore et al., 2004)</text>
      <line x1={689} x2={727} y1={597} y2={597} stroke="#f08080" strokeWidth={1.5} />
      <text x={741} y={603} fontSize={17} fontFamily={SANS} fill="#f08c8c">Ar/He ratio</text>
      <line x1={689} x2={727} y1={629} y2={629} stroke="#5aa83a" strokeWidth={1.5} />
      <text x={741} y={630} fontSize={17} fontFamily={SANS} fill="#6ab04c">CO<tspan dy={5} fontSize={13}>2</tspan><tspan dy={-5}> (Mol %)</tspan></text>
      <line x1={689} x2={727} y1={652} y2={652} stroke="#1a9de0" strokeWidth={2} />
      <text x={741} y={657} fontSize={17} fontFamily={SANS} fill="#1ca0e0">Alkane/Alkene ratio</text>
      <line x1={689} x2={727} y1={682} y2={682} stroke="#ee2020" strokeWidth={1.5} strokeDasharray="4 3" />
      <text x={741} y={684} fontSize={17} fontFamily={SANS} fill="#e82020">CO<tspan dy={5} fontSize={13}>2</tspan><tspan dy={-5}>/CH</tspan><tspan dy={5} fontSize={13}>4</tspan></text>

      {/* (d) */}
      <text x={983} y={32} fontSize={21} fontWeight="bold" {...base}>(d)</text>
      <circle cx={995} cy={90} r={6.5} fill="#fff" stroke="#111" strokeWidth={1.6} />
      <text x={1030} y={96} fontSize={17} fontFamily={SANS} fill="#222">Background 100ºC/km</text>
      <line x1={998} x2={1020} y1={118} y2={118} stroke="#111" strokeWidth={2} />
      <polygon points="1031,118 1017,112 1017,124" fill="#111" />
      <polygon points="995,111 1001,118 995,125 989,118" fill="#f8ee00" stroke="#222" strokeWidth={1.3} />
      <text x={1031} y={123} fontSize={17} fontFamily={SANS} fill="#222">Local measured dT/dz</text>
      <text x={1000} y={300} fontSize={14} fontStyle="italic" textAnchor="middle" transform="rotate(-90 1000 300)" fontFamily={SANS} fill="#222">Tectonic Forcing of fluid presure</text>
      <text x={1070} y={338} fontSize={14} fontStyle="italic" textAnchor="middle" transform="rotate(-90 1070 338)" fontFamily={SANS} fill="#222">Threshold for Topographically &amp; Buoyanmcy Driven Flow</text>
      <text x={1124} y={358} fontSize={14} fontWeight="bold" textAnchor="middle" transform="rotate(-90 1124 358)" fontFamily={SANS} fill="#111">Avg <tspan fontStyle="italic">k</tspan> of Convecting Zone</text>
      <text x={1093} y={593} fontSize={21} fontWeight="bold" textAnchor="middle" {...base}>Permeability (k)</text>
      <text x={1094} y={620} fontSize={21} fontWeight="bold" textAnchor="middle" {...base}>[m²]</text>
    </svg>
  );
}

export default function App() {
  return (
    <div style={{ position: 'fixed', left: 0, top: 0, width: 1228, height: 693, overflow: 'hidden', background: '#fff', fontFamily: SANS }}>
      <div style={{ position: 'absolute', left: 0, top: 0 }}><PanelA /></div>
      <div style={{ position: 'absolute', left: 350, top: 0 }}><PanelB /></div>
      <div style={{ position: 'absolute', left: 640, top: 0 }}><PanelArHe /></div>
      <div style={{ position: 'absolute', left: 750, top: 0 }}><PanelCO2 /></div>
      <div style={{ position: 'absolute', left: 815, top: 0 }}><PanelRatio /></div>
      <div style={{ position: 'absolute', left: 960, top: 0 }}><PanelD /></div>
      <Annotations />
    </div>
  );
}
